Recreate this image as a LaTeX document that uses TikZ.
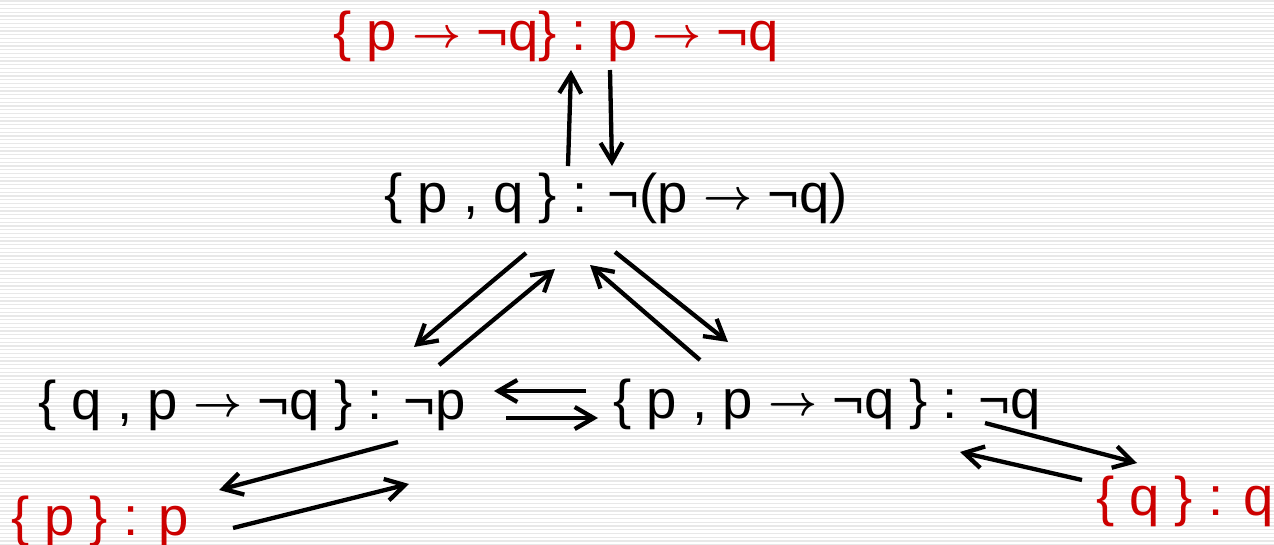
\documentclass[tikz,border=0pt]{standalone}
\usepackage{graphicx}
\usepackage{fontspec}
\setmainfont{Liberation Sans}
\usetikzlibrary{arrows.meta}
\definecolor{termred}{RGB}{204,0,0}
\newcommand\impl{\raisebox{3pt}{\resizebox{49pt}{!}{\boldmath$\rightarrow$}}}
\tikzset{
    term/.style={anchor=base, inner sep=0pt, font=\fontsize{54.5}{62}\selectfont},
    redterm/.style={term, text=termred},
    arr/.style={line width=4.3pt, -{Straight Barb[length=19pt, width=22pt, line width=4.3pt]}},
    stripe/.style={line width=1.2pt, gray!18}
}

\begin{document}
\begin{tikzpicture}[x=1pt, y=-1pt]
    \def\pw {1274}
    \def\ph {544}
    \useasboundingbox (0,0) rectangle (\pw,\ph);
    \fill[white] (0,0) rectangle (\pw,\ph);
    \foreach \i in {0,...,145}
        \draw[stripe] (0,\i*3.75+1) -- (\pw,\i*3.75+1);

    \node[redterm] (nfull) at (556,50) {\{ p \impl{} ¬q\} : p \impl{} ¬q};
    \node[term] (npq) at (616,212) {\{ p , q \} : ¬(p \impl{} ¬q)};
    \node[term] (nleft) at (252,419) {\{ q , p \impl{} ¬q \} : ¬p};
    \node[term] (nright) at (827,418) {\{ p , p \impl{} ¬q \} : ¬q};
    \node[redterm] (np) at (100,535) {\{ p \} : p};
    \node[redterm] (nq) at (1185,515) {\{ q \} : q};

    \draw[arr] ([shift={(-48,-46)}]npq.base) -- ([shift={(15,20)}]nfull.base);
    \draw[arr] ([shift={(54,20)}]nfull.base) -- ([shift={(-4,-46)}]npq.base);
    \draw[arr] ([shift={(-90,41)}]npq.base) -- ([shift={(162,-72)}]nleft.base);
    \draw[arr] ([shift={(187,-54)}]nleft.base) -- ([shift={(-61,57)}]npq.base);
    \draw[arr] ([shift={(-127,-58)}]nright.base) -- ([shift={(-26,53)}]npq.base);
    \draw[arr] ([shift={(-1,40)}]npq.base) -- ([shift={(-99,-76)}]nright.base);
    \draw[arr] ([shift={(-241,-27)}]nright.base) -- ([shift={(242,-28)}]nleft.base);
    \draw[arr] ([shift={(254,-1)}]nleft.base) -- ([shift={(-229,0)}]nright.base);
    \draw[arr] ([shift={(158,5)}]nright.base) -- ([shift={(-48,-52)}]nq.base);
    \draw[arr] ([shift={(-103,-35)}]nq.base) -- ([shift={(133,34)}]nright.base);
    \draw[arr] ([shift={(146,23)}]nleft.base) -- ([shift={(119,-45)}]np.base);
    \draw[arr] ([shift={(133,-7)}]np.base) -- ([shift={(157,65)}]nleft.base);
\end{tikzpicture}
\end{document}
